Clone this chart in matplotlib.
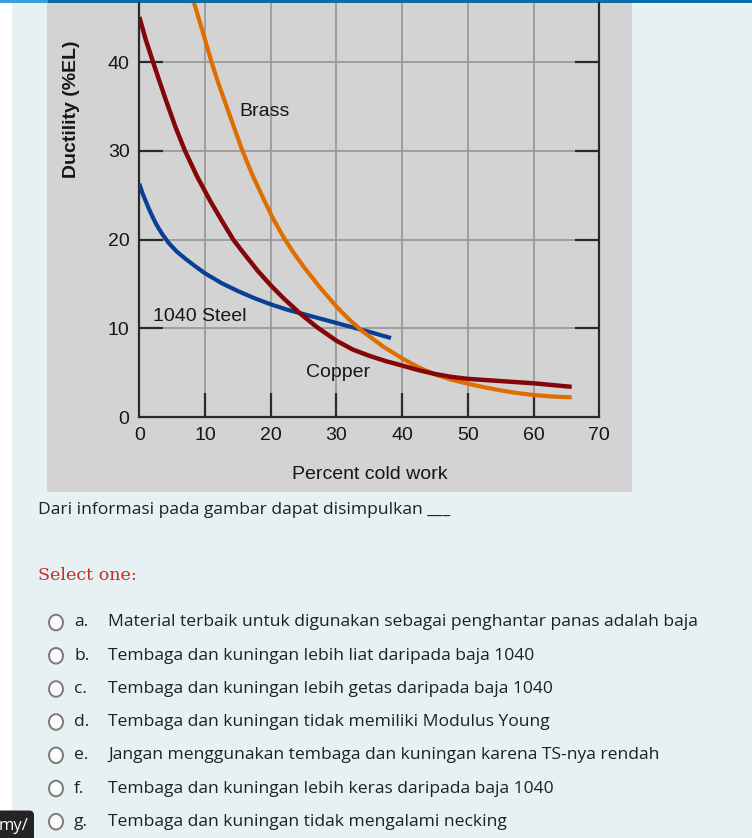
import matplotlib
matplotlib.use("Agg")
import matplotlib.pyplot as plt
from matplotlib.patches import Rectangle, Circle, FancyBboxPatch

# ---------------- data ----------------
steel_x = [0, 0.5, 1, 1.5, 2, 2.5, 3, 3.65, 4.5, 5.7, 7, 8.5, 10, 12.5, 15, 17.5, 20, 22.5, 25, 27.5, 30, 32.5, 35, 38.3]
steel_y = [26.3, 25.2, 24.3, 23.4, 22.6, 21.85, 21.2, 20.45, 19.6, 18.65, 17.85, 17.0, 16.2, 15.1, 14.2, 13.4, 12.7, 12.1, 11.6, 11.1, 10.6, 10.1, 9.6, 8.9]

copper_x = [0, 1, 2.1, 3, 4.06, 5.5, 6.96, 8.8, 10.76, 12.5, 14.3, 15.8, 18, 20, 22, 24.5, 27, 30, 32.5,
            35, 37.5, 40, 42.5, 45, 47.5, 50, 55, 60, 65.8]
copper_y = [45.1, 42.5, 40, 38, 35.7, 32.7, 30, 27.1, 24.4, 22.2, 20.0, 18.55, 16.5, 14.85, 13.35, 11.65, 10.15, 8.6, 7.6,
            6.9, 6.3, 5.8, 5.28, 4.85, 4.52, 4.3, 4.05, 3.8, 3.4]

brass_x = [7.9, 8.37, 9.74, 11.0, 12, 13, 14.3, 15.6, 17.2, 18.9, 20.4, 22, 23.5, 25, 27.5, 30, 32, 34, 37,
           40, 42.5, 45, 47.5, 50, 52.5, 55, 57.5, 60, 63, 65.8]
brass_y = [47.5, 46.6, 43.2, 40.0, 37.7, 35.6, 32.9, 30.2, 27.3, 24.6, 22.3, 20.2, 18.5, 16.95, 14.6, 12.45, 10.95, 9.65, 8.0,
           6.6, 5.6, 4.8, 4.2, 3.75, 3.35, 3.0, 2.7, 2.48, 2.3, 2.22]

x_ticks = [0, 10, 20, 30, 40, 50, 60, 70]
y_ticks = [0, 10, 20, 30, 40]

question = "Dari informasi pada gambar dapat disimpulkan ___"
prompt = "Select one:"
option_letters = ["a.", "b.", "c.", "d.", "e.", "f.", "g."]
option_texts = [
    "Material terbaik untuk digunakan sebagai penghantar panas adalah baja",
    "Tembaga dan kuningan lebih liat daripada baja 1040",
    "Tembaga dan kuningan lebih getas daripada baja 1040",
    "Tembaga dan kuningan tidak memiliki Modulus Young",
    "Jangan menggunakan tembaga dan kuningan karena TS-nya rendah",
    "Tembaga dan kuningan lebih keras daripada baja 1040",
    "Tembaga dan kuningan tidak mengalami necking",
]

# ---------------- layout helpers ----------------
W, H = 752, 838
fig = plt.figure(figsize=(W / 100, H / 100), dpi=100)
fig.patch.set_facecolor("#e7f1f4")

def fx(x):
    return x / W

def fy(y):
    return 1 - y / H

def rect(x0, y0, x1, y1, color, z=0):
    fig.patches.append(Rectangle((fx(x0), fy(y1)), fx(x1) - fx(x0), fy(y0) - fy(y1),
                                 transform=fig.transFigure, facecolor=color,
                                 edgecolor="none", zorder=z))

# page decorations
rect(0, 0, 12, H, "#ffffff")
rect(0, 0, W, 3.3, "#0b6fa5", 1)
rect(0, 0, 48, 3.3, "#3aa0d8", 2)
rect(47, 3.3, 632, 492, "#d3d3d3", 1)

CHART = ["Liberation Sans", "DejaVu Sans"]
BODY = ["Open Sans", "DejaVu Sans"]
INK = "#161616"

# ---------------- chart ----------------
ax_l, ax_r, ax_b, ax_t = 139.3, 599.3, 417.0, 3.3
ax = fig.add_axes([fx(ax_l), fy(ax_b), fx(ax_r) - fx(ax_l), fy(ax_t) - fy(ax_b)])
ax.set_facecolor("none")
ax.set_zorder(3)
ymax = (ax_b - ax_t) / 8.87
ax.set_xlim(0, 70)
ax.set_ylim(0, ymax)

for v in x_ticks[1:-1]:
    ax.axvline(v, color="#9a9a9a", lw=1.3, zorder=1)
for v in y_ticks[1:]:
    ax.axhline(v, color="#9a9a9a", lw=1.3, zorder=1)

ax.plot(steel_x, steel_y, color="#0a3f96", lw=3.0, solid_capstyle="butt", solid_joinstyle="round", zorder=4)
ax.plot(brass_x, brass_y, color="#e06d00", lw=3.0, solid_capstyle="butt", solid_joinstyle="round", zorder=5)
ax.plot(copper_x, copper_y, color="#850606", lw=3.2, solid_capstyle="butt", solid_joinstyle="round", zorder=6)

ax.spines["top"].set_visible(False)
for s in ["left", "bottom", "right"]:
    ax.spines[s].set_color("#2a2a2a")
    ax.spines[s].set_linewidth(1.6)

ax.set_xticks(x_ticks)
ax.set_yticks(y_ticks)
ax.tick_params(axis="both", direction="in", length=17, width=1.6, color="#2a2a2a",
               labelsize=14, labelcolor=INK, pad=7)
ax.tick_params(axis="y", right=True)
for i, t in enumerate(ax.xaxis.get_major_ticks()):
    if x_ticks[i] in (0, 70):
        t.tick1line.set_visible(False)
for i, t in enumerate(ax.yaxis.get_major_ticks()):
    if y_ticks[i] == 0:
        t.tick1line.set_visible(False)
        t.tick2line.set_visible(False)
for lab in ax.get_xticklabels() + ax.get_yticklabels():
    lab.set_family(CHART)

ax.text(19.1, 34.4, "Brass", ha="center", va="center", fontsize=14, family=CHART, color=INK)
ax.text(9.2, 11.3, "1040 Steel", ha="center", va="center", fontsize=14, family=CHART, color=INK)
ax.text(30.2, 5.0, "Copper", ha="center", va="center", fontsize=14, family=CHART, color=INK)

fig.text(fx(71), fy(109), "Ductility (%EL)", rotation=90, ha="center", va="center",
         fontsize=14, family=CHART, fontweight="bold", color=INK, zorder=4)
fig.text(fx(370), fy(474), "Percent cold work", ha="center", va="center",
         fontsize=14, family=CHART, color=INK, zorder=4)

# ---------------- quiz text ----------------
TXT = "#1d2125"
FS = 12.6
fig.text(fx(38), fy(510), question, ha="left", va="center", fontsize=FS,
         family=BODY, color=TXT)
fig.text(fx(38), fy(575), prompt, ha="left", va="center", fontsize=12.6,
         family=["DejaVu Serif"], color="#c62f24")

ys = [622.5, 655.8, 689, 722, 755.3, 788.5, 821.7]
for letter, txt, y in zip(option_letters, option_texts, ys):
    c = Circle((fx(56), fy(y)), 7 / W, transform=fig.transFigure, facecolor="#fbfbfb",
               edgecolor="#7a7a7a", lw=1.4, zorder=3)
    fig.patches.append(c)
    fig.text(fx(74), fy(y), letter, ha="left", va="center", fontsize=FS, family=BODY, color=TXT)
    fig.text(fx(108), fy(y), txt, ha="left", va="center", fontsize=FS, family=BODY, color=TXT)

# bottom-left dark tooltip fragment
fig.patches.append(FancyBboxPatch((fx(-10), fy(845)), fx(44), fy(810.5) - fy(845),
                                  boxstyle="round,pad=0,rounding_size=0.006",
                                  transform=fig.transFigure, facecolor="#242424",
                                  edgecolor="none", zorder=5))
fig.text(fx(-1), fy(826), "my/", ha="left", va="center", fontsize=12, family=BODY,
         color="#ffffff", zorder=6)

fig.savefig("out.png", dpi=100, facecolor=fig.get_facecolor())
